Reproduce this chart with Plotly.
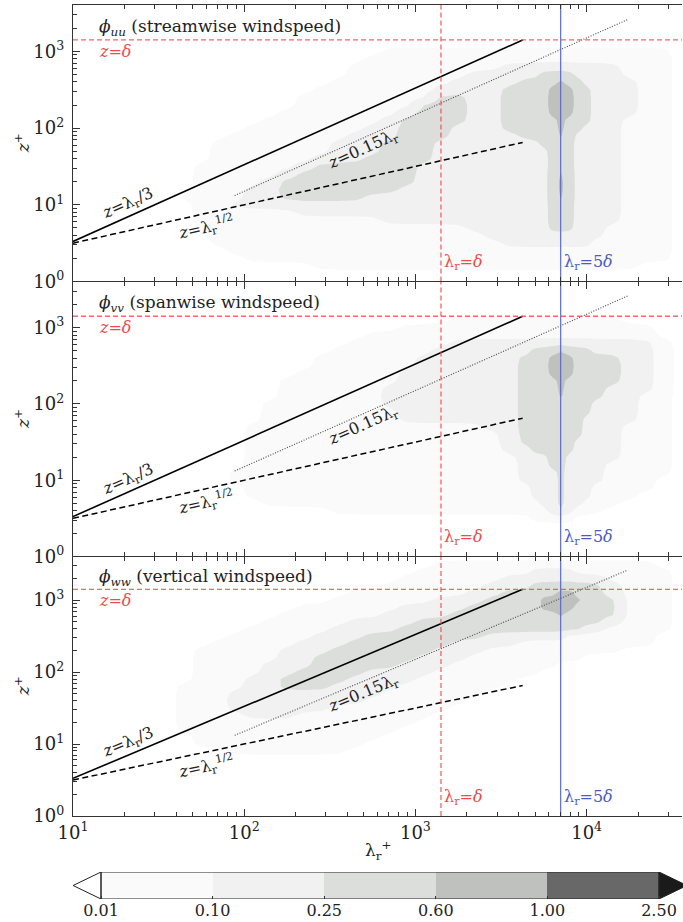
import math
import numpy as np
import plotly.graph_objects as go

# ---------------------------------------------------------------- data ----
DELTA_PLUS = 1410.0                     # boundary-layer height in wall units

LEVELS = [0.01, 0.10, 0.25, 0.60, 1.00, 2.50]
LEVEL_LABELS = ["0.01", "0.10", "0.25", "0.60", "1.00", "2.50"]
# colours of: below 0.01, 0.01-0.1, 0.1-0.25, 0.25-0.6, 0.6-1, 1-2.5, above 2.5
BAND_COLORS = ["#ffffff", "#fafafa", "#f1f1f1", "#dcdedc", "#bfc1bf", "#686868", "#1a1a1a"]
# representative premultiplied-spectrum value for each band code 0..5
CODE_PHI = [0.003, 0.032, 0.16, 0.39, 0.77, 1.6]

# grid columns: log10(lambda_r^+)
LOG_LAMBDA = [0.95, 1.05, 1.15, 1.25, 1.35, 1.45, 1.55, 1.65, 1.75, 1.85,
              1.95, 2.05, 2.15, 2.25, 2.35, 2.45, 2.55, 2.65, 2.75, 2.85,
              2.95, 3.05, 3.15, 3.25, 3.35, 3.45, 3.55, 3.65, 3.70, 3.75,
              3.80, 3.85, 3.90, 3.95, 4.00, 4.05, 4.15, 4.25, 4.35, 4.45,
              4.55, 4.65]
# grid rows: log10(z^+), listed top to bottom
LOG_Z = [3.7, 3.6, 3.5, 3.4, 3.3, 3.2, 3.1, 3.0, 2.9, 2.8, 2.7, 2.6, 2.5,
         2.4, 2.3, 2.2, 2.1, 2.0, 1.9, 1.8, 1.7, 1.6, 1.5, 1.4, 1.3, 1.2,
         1.1, 1.0, 0.9, 0.8, 0.7, 0.6, 0.5, 0.4, 0.3, 0.2, 0.1, 0.0]

# band code per grid cell, run-length coded as "code*count", rows top->bottom
PHI_UU = [
    "0*42", "0*42", "0*42", "0*42", "0*42", "0*42", "0*42",
    "0*19 1*21 0*2",
    "0*18 1*22 0*2",
    "0*17 1*9 2*11 1*3 0*2",
    "0*17 1*7 2*5 3*4 2*4 1*3 0*2",
    "0*16 1*7 2*4 3*4 4*1 3*2 2*4 1*2 0*2",
    "0*15 1*7 2*4 3*4 4*3 3*2 2*3 1*2 0*2",
    "0*14 1*8 3*2 2*2 3*4 4*3 3*2 2*3 1*2 0*2",
    "0*14 1*7 3*3 2*2 3*4 4*3 3*2 2*3 1*2 0*2",
    "0*13 1*7 2*1 3*3 2*2 3*4 4*3 3*2 2*3 1*2 0*2",
    "0*12 1*7 2*1 3*4 2*2 3*5 4*1 3*3 2*2 1*3 0*2",
    "0*11 1*7 2*2 3*3 2*3 3*5 4*1 3*2 2*3 1*3 0*2",
    "0*10 1*7 2*3 3*3 2*4 3*4 4*1 3*1 2*4 1*3 0*2",
    "0*9 1*7 2*3 3*3 2*7 3*4 2*4 1*3 0*2",
    "0*9 1*7 2*3 3*3 2*8 3*3 2*4 1*3 0*2",
    "0*9 1*6 2*3 3*4 2*8 3*3 2*4 1*3 0*2",
    "0*8 1*6 2*1 3*6 2*9 3*3 2*4 1*3 0*2",
    "0*8 1*5 2*1 3*7 2*9 3*1 4*1 3*1 2*4 1*3 0*2",
    "0*8 1*4 2*1 3*8 2*9 3*1 4*1 3*1 2*4 1*3 0*2",
    "0*8 1*3 2*2 3*7 2*10 3*1 4*1 3*1 2*4 1*3 0*2",
    "0*7 1*4 2*2 3*5 2*12 3*1 4*1 3*1 2*4 1*3 0*2",
    "0*8 1*2 2*20 3*3 2*4 1*3 0*2",
    "0*8 1*6 2*16 3*3 2*4 1*3 0*2",
    "0*8 1*11 2*11 3*3 2*4 1*3 0*2",
    "0*8 1*16 2*6 3*3 2*3 1*4 0*2",
    "0*9 1*16 2*11 1*4 0*2",
    "0*9 1*17 2*9 1*5 0*2",
    "0*10 1*30 0*2",
    "0*11 1*29 0*2",
    "0*15 1*23 0*4",
    "0*42", "0*42",
]

PHI_VV = [
    "0*42", "0*42", "0*42", "0*42", "0*42", "0*42",
    "0*23 1*14 0*5",
    "0*20 1*19 0*3",
    "0*18 1*21 0*3",
    "0*17 1*6 2*16 1*1 0*2",
    "0*16 1*6 2*6 3*3 4*1 3*3 2*4 1*1 0*2",
    "0*15 1*6 2*6 3*3 4*3 3*4 2*2 1*1 0*2",
    "0*15 1*6 2*6 3*3 4*3 3*4 2*2 1*1 0*2",
    "0*14 1*6 2*7 3*3 4*3 3*4 2*2 1*1 0*2",
    "0*13 1*7 2*7 3*4 4*1 3*5 2*2 1*1 0*2",
    "0*13 1*6 2*8 3*4 4*1 3*4 2*3 1*1 0*2",
    "0*13 1*6 2*8 3*4 4*1 3*4 2*2 1*2 0*2",
    "0*12 1*7 2*8 3*8 2*3 1*2 0*2",
    "0*12 1*8 2*7 3*8 2*3 1*2 0*2",
    "0*12 1*8 2*7 3*7 2*4 1*2 0*2",
    "0*11 1*14 2*2 3*7 2*3 1*3 0*2",
    "0*11 1*15 2*1 3*7 2*3 1*3 0*2",
    "0*11 1*15 2*1 3*6 2*4 1*3 0*2",
    "0*11 1*15 2*2 3*5 2*4 1*3 0*2",
    "0*11 1*16 2*3 3*2 2*5 1*3 0*2",
    "0*11 1*16 2*3 3*2 2*4 1*4 0*2",
    "0*10 1*17 2*4 3*1 2*4 1*4 0*2",
    "0*10 1*17 2*4 3*1 2*4 1*3 0*3",
    "0*11 1*17 2*3 3*1 2*3 1*4 0*3",
    "0*11 1*17 2*3 3*1 2*3 1*3 0*4",
    "0*12 1*17 2*2 3*1 2*2 1*3 0*5",
    "0*16 1*14 2*1 3*1 2*1 1*3 0*6",
    "0*28 1*5 0*9",
    "0*42", "0*42", "0*42", "0*42", "0*42",
]

PHI_WW = [
    "0*42", "0*42",
    "0*22 1*17 0*3",
    "0*21 1*7 2*5 1*7 0*2",
    "0*20 1*6 2*10 1*4 0*2",
    "0*19 1*6 2*3 3*8 2*1 1*3 0*2",
    "0*17 1*7 2*2 3*5 4*2 3*3 2*1 1*3 0*2",
    "0*16 1*6 2*3 3*4 4*5 3*3 1*3 0*2",
    "0*14 1*6 2*4 3*5 4*4 3*4 1*3 0*2",
    "0*13 1*6 2*4 3*8 4*1 3*5 1*3 0*2",
    "0*12 1*5 2*4 3*15 2*1 1*3 0*2",
    "0*11 1*5 2*4 3*14 2*2 1*4 0*2",
    "0*10 1*5 2*3 3*7 2*7 1*7 0*3",
    "0*9 1*5 2*3 3*6 2*4 1*12 0*3",
    "0*8 1*5 2*3 3*6 2*3 1*12 0*5",
    "0*8 1*5 2*2 3*6 2*3 1*10 0*8",
    "0*8 1*4 2*3 3*5 2*3 1*8 0*11",
    "0*8 1*4 2*2 3*4 2*4 1*7 0*13",
    "0*8 1*3 2*2 3*4 2*4 1*6 0*15",
    "0*7 1*4 2*2 3*3 2*4 1*6 0*16",
    "0*7 1*3 2*9 1*6 0*17",
    "0*7 1*3 2*8 1*6 0*18",
    "0*7 1*3 2*6 1*7 0*19",
    "0*7 1*4 2*3 1*8 0*20",
    "0*7 1*14 0*21",
    "0*7 1*13 0*22",
    "0*8 1*11 0*23",
    "0*8 1*10 0*24",
    "0*10 1*7 0*25",
    "0*42", "0*42", "0*42", "0*42", "0*42", "0*42", "0*42", "0*42", "0*42",
]

PANEL_FIELDS = [PHI_UU, PHI_VV, PHI_WW]
PANEL_TITLES = ["<i>ϕ</i><sub><i>uu</i></sub> (streamwise windspeed)",
                "<i>ϕ</i><sub><i>vv</i></sub> (spanwise windspeed)",
                "<i>ϕ</i><sub><i>ww</i></sub> (vertical windspeed)"]

# reference scalings
LINE_LAMBDA = [10.0, 3 * DELTA_PLUS]      # extent of z = lambda/3 and z = lambda^1/2
DOTTED_LAMBDA = [88.0, 17400.0]           # extent of z = 0.15 lambda
LABEL_LAMBDA = {"third": 21.0, "sqrt": 60.0, "p15": 497.0}

X_TICKS = [10, 100, 1000, 10000]
X_TICK_TEXT = ["10<sup>1</sup>", "10<sup>2</sup>", "10<sup>3</sup>", "10<sup>4</sup>"]
Y_TICKS = [1, 10, 100, 1000]
Y_TICK_TEXT = ["10<sup>0</sup>", "10<sup>1</sup>", "10<sup>2</sup>", "10<sup>3</sup>"]

# ------------------------------------------------------------- styling ----
FIG_W, FIG_H = 683, 922
FONT = "DejaVu Serif"
INK = "#222222"
AXIS_INK = "#333333"
RED_LINE = "rgba(240, 75, 75, 0.85)"
RED_TEXT = "#ee4a4a"
BLUE_LINE = "rgba(85, 105, 200, 0.9)"
BLUE_TEXT = "#4a5cbf"

X_LOG_RANGE = [1.0, 4.557]
Y_LOG_RANGE = [0.0, 3.605]
PLOT_LEFT_PX, PLOT_RIGHT_PX = 73, 682
PANEL_PX = [(5, 281.5), (281.5, 556.5), (556.5, 816)]
CBAR_LEFT_PX, CBAR_RECT_LEFT_PX, CBAR_RECT_RIGHT_PX = 72, 101, 659
CBAR_TOP_PX, CBAR_BOTTOM_PX = 872, 899
EXTEND_FRAC = 0.05


def fx(px):
    return px / FIG_W


def fy(py):
    return 1 - py / FIG_H


def decode(rows):
    grid = []
    n = len(LOG_LAMBDA)
    for row in rows:
        cells = []
        for tok in row.split():
            code, count = tok.split("*")
            cells.extend([int(code)] * int(count))
        cells = (cells + [0] * n)[:n]
        grid.append(cells)
    return np.array(grid[::-1])          # bottom -> top


EDGES = [LEVELS[0] / 10] + LEVELS + [LEVELS[-1] * 2.5]


def to_level_index(phi):
    return np.interp(np.log10(phi), np.log10(EDGES), np.arange(len(EDGES)))


def blur(a, axis, sigma=0.6, r=2):
    offs = np.arange(-r, r + 1)
    w = np.exp(-0.5 * (offs / sigma) ** 2)
    w /= w.sum()
    pad = [(0, 0), (0, 0)]
    pad[axis] = (r, r)
    ap = np.pad(a, pad, mode="edge")
    out = np.zeros_like(a, dtype=float)
    for o, wt in zip(offs, w):
        sl = [slice(None), slice(None)]
        sl[axis] = slice(r + o, r + o + a.shape[axis])
        out += wt * ap[tuple(sl)]
    return out


def refine(field, factor=4):
    """Soften the cell steps and resample the grid finer (bilinear)."""
    f = blur(blur(field, 0), 1)
    ny, nx = f.shape
    xi = np.linspace(0, nx - 1, factor * (nx - 1) + 1)
    yi = np.linspace(0, ny - 1, factor * (ny - 1) + 1)
    tmp = np.array([np.interp(xi, np.arange(nx), row) for row in f])
    up = np.array([np.interp(yi, np.arange(ny), col) for col in tmp.T]).T
    lx = np.interp(xi, np.arange(nx), LOG_LAMBDA)
    ly = np.interp(yi, np.arange(ny), LOG_Z[::-1])
    return 10 ** lx, 10 ** ly, up


n_bands = len(BAND_COLORS)
colorscale = [[k / (n_bands - 1), c] for k, c in enumerate(BAND_COLORS)]

fig = go.Figure()
annotations = []
layout_axes = {}

x_px_per_dec = (PLOT_RIGHT_PX - PLOT_LEFT_PX) / (X_LOG_RANGE[1] - X_LOG_RANGE[0])

for i, rows in enumerate(PANEL_FIELDS):
    sfx = "" if i == 0 else str(i + 1)
    xr, yr = "x" + sfx, "y" + sfx
    top, bot = PANEL_PX[i]
    phi = np.array(CODE_PHI)[decode(rows)]
    gx, gy, gz = refine(to_level_index(phi))
    fig.add_trace(go.Contour(
        x=gx, y=gy, z=gz, xaxis=xr, yaxis=yr,
        contours=dict(start=1, end=6, size=1, coloring="fill", showlines=False),
        colorscale=colorscale, showscale=False,
        line=dict(width=0, smoothing=1.0), hoverinfo="skip"))

    lx = np.array(LINE_LAMBDA)
    fig.add_trace(go.Scatter(x=lx, y=lx / 3, mode="lines", xaxis=xr, yaxis=yr,
                             line=dict(color="#000000", width=1.6), hoverinfo="skip"))
    fig.add_trace(go.Scatter(x=lx, y=np.sqrt(lx), mode="lines", xaxis=xr, yaxis=yr,
                             line=dict(color="#000000", width=1.5, dash="6px,3.5px"),
                             hoverinfo="skip"))
    dx = np.array(DOTTED_LAMBDA)
    fig.add_trace(go.Scatter(x=dx, y=0.15 * dx, mode="lines", xaxis=xr, yaxis=yr,
                             line=dict(color="#444444", width=1.1, dash="1px,1.6px"),
                             hoverinfo="skip"))
    xfull = [10 ** X_LOG_RANGE[0], 10 ** X_LOG_RANGE[1]]
    yfull = [10 ** Y_LOG_RANGE[0], 10 ** Y_LOG_RANGE[1]]
    fig.add_trace(go.Scatter(x=xfull, y=[DELTA_PLUS] * 2, mode="lines", xaxis=xr, yaxis=yr,
                             line=dict(color=RED_LINE, width=1.3, dash="5px,3px"),
                             hoverinfo="skip"))
    fig.add_trace(go.Scatter(x=[DELTA_PLUS] * 2, y=yfull, mode="lines", xaxis=xr, yaxis=yr,
                             line=dict(color=RED_LINE, width=1.3, dash="5px,3px"),
                             hoverinfo="skip"))
    fig.add_trace(go.Scatter(x=[5 * DELTA_PLUS] * 2, y=yfull, mode="lines", xaxis=xr, yaxis=yr,
                             line=dict(color=BLUE_LINE, width=1.3), hoverinfo="skip"))

    # axes
    common = dict(type="log", showgrid=False, zeroline=False, showline=True,
                  automargin=False,
                  linecolor=AXIS_INK, linewidth=1.3,
                  ticks="inside", ticklen=7, tickwidth=1.2, tickcolor=AXIS_INK,
                  tickfont=dict(family=FONT, size=18, color=INK),
                  minor=dict(ticks="inside", ticklen=4, tickwidth=1, tickcolor=AXIS_INK,
                             dtick="D1", showgrid=False))
    layout_axes["xaxis" + sfx] = dict(
        common, range=X_LOG_RANGE, domain=[fx(PLOT_LEFT_PX), fx(PLOT_RIGHT_PX)],
        anchor=yr, tickmode="array", tickvals=X_TICKS, ticktext=X_TICK_TEXT,
        showticklabels=(i == 2), mirror="allticks")
    layout_axes["yaxis" + sfx] = dict(
        common, range=Y_LOG_RANGE, domain=[fy(bot), fy(top)], anchor=xr,
        tickmode="array", tickvals=Y_TICKS, ticktext=Y_TICK_TEXT, ticklabelstandoff=4,
        mirror=False)
    # right-hand spine with major ticks only
    layout_axes["yaxis" + str(i + 5)] = dict(
        type="log", range=Y_LOG_RANGE, overlaying=yr, side="right", anchor=xr,
        showgrid=False, zeroline=False, showline=True, linecolor=AXIS_INK, linewidth=1.3,
        ticks="inside", ticklen=7, tickwidth=1.2, tickcolor=AXIS_INK,
        tickmode="array", tickvals=Y_TICKS, showticklabels=False, automargin=False)

    # text
    y_px_per_dec = (bot - top) / (Y_LOG_RANGE[1] - Y_LOG_RANGE[0])
    ang1 = math.degrees(math.atan(y_px_per_dec / x_px_per_dec))
    ang_half = math.degrees(math.atan(0.5 * y_px_per_dec / x_px_per_dec))
    base = dict(showarrow=False, font=dict(family=FONT, size=16, color=INK))
    annotations.append(dict(base, text=PANEL_TITLES[i], xref=xr + " domain", yref=yr + " domain",
                            x=0.04, y=0.92, xanchor="left", yanchor="middle",
                            font=dict(family=FONT, size=17, color=INK)))
    annotations.append(dict(base, text="<i>z</i>=<i>δ</i>", xref=xr + " domain", yref=yr,
                            x=0.04, y=math.log10(DELTA_PLUS), xanchor="left", yanchor="top",
                            font=dict(family=FONT, size=16, color=RED_TEXT)))
    annotations.append(dict(base, text="λ<sub>r</sub>=<i>δ</i>", xref=xr, yref=yr + " domain",
                            x=math.log10(DELTA_PLUS), y=0.07, xanchor="left", yanchor="middle",
                            xshift=1, font=dict(family=FONT, size=16, color=RED_TEXT)))
    annotations.append(dict(base, text="λ<sub>r</sub>=5<i>δ</i>", xref=xr, yref=yr + " domain",
                            x=math.log10(5 * DELTA_PLUS), y=0.07, xanchor="left",
                            yanchor="middle", xshift=1,
                            font=dict(family=FONT, size=16, color=BLUE_TEXT)))
    l3 = LABEL_LAMBDA["third"]
    annotations.append(dict(base, text="<i>z</i>=λ<sub>r</sub>/3", xref=xr, yref=yr,
                            x=math.log10(l3), y=math.log10(l3 / 3), yshift=13,
                            textangle=-ang1))
    ls = LABEL_LAMBDA["sqrt"]
    annotations.append(dict(base, text="<i>z</i>=λ<sub>r</sub><sup>1/2</sup>", xref=xr, yref=yr,
                            x=math.log10(ls), y=math.log10(math.sqrt(ls)), yshift=-14,
                            textangle=-ang_half))
    lp = LABEL_LAMBDA["p15"]
    annotations.append(dict(base, text="<i>z</i>=0.15λ<sub>r</sub>", xref=xr, yref=yr,
                            x=math.log10(lp), y=math.log10(0.15 * lp), yshift=-12,
                            textangle=-ang1))
    annotations.append(dict(base, text="<i>z</i><sup>+</sup>", xref="paper", yref="paper",
                            x=fx(22), y=fy((top + bot) / 2), textangle=-90,
                            xanchor="center", yanchor="middle",
                            font=dict(family=FONT, size=17, color=INK)))

annotations.append(dict(showarrow=False, text="λ<sub>r</sub><sup>+</sup>", xref="paper",
                        yref="paper", x=fx((PLOT_LEFT_PX + PLOT_RIGHT_PX) / 2), y=fy(850),
                        xanchor="center", yanchor="middle",
                        font=dict(family=FONT, size=17, color=INK)))

# ------------------------------------------------------------ colourbar ----
n_inner = len(LEVELS) - 1
unit_px = (CBAR_RECT_RIGHT_PX - CBAR_RECT_LEFT_PX) / n_inner
ext = EXTEND_FRAC * n_inner
cb_range = [(CBAR_LEFT_PX - CBAR_RECT_LEFT_PX) / unit_px,
            (FIG_W - CBAR_RECT_LEFT_PX) / unit_px]
fig.add_trace(go.Heatmap(
    x=list(range(n_inner + 1)), y=[0, 1],
    z=[[k + 1.5 for k in range(n_inner)]], zmin=0.5, zmax=n_bands - 0.5,
    colorscale=colorscale, showscale=False, xaxis="x4", yaxis="y4", hoverinfo="skip"))
fig.add_trace(go.Scatter(x=[0, -ext, 0, 0], y=[0, 0.5, 1, 0], mode="lines", fill="toself",
                         fillcolor=BAND_COLORS[0], line=dict(color=INK, width=1),
                         xaxis="x4", yaxis="y4", hoverinfo="skip"))
fig.add_trace(go.Scatter(x=[n_inner, n_inner + ext, n_inner, n_inner], y=[0, 0.5, 1, 0],
                         mode="lines", fill="toself", fillcolor=BAND_COLORS[-1],
                         line=dict(color=INK, width=1), xaxis="x4", yaxis="y4",
                         hoverinfo="skip"))
fig.add_trace(go.Scatter(x=[0, n_inner, n_inner, 0, 0], y=[0, 0, 1, 1, 0], mode="lines",
                         line=dict(color=INK, width=1), xaxis="x4", yaxis="y4",
                         hoverinfo="skip"))
layout_axes["xaxis4"] = dict(range=cb_range, domain=[fx(CBAR_LEFT_PX), 1.0], anchor="y4",
                             automargin=False,
                             showgrid=False, zeroline=False, showline=False,
                             tickmode="array", tickvals=list(range(n_inner + 1)),
                             ticktext=LEVEL_LABELS, ticks="inside", ticklen=3,
                             tickcolor=AXIS_INK, tickfont=dict(family=FONT, size=16, color=INK))
layout_axes["yaxis4"] = dict(range=[0, 1], domain=[fy(CBAR_BOTTOM_PX), fy(CBAR_TOP_PX)],
                             anchor="x4", visible=False, automargin=False)

fig.update_layout(
    width=FIG_W, height=FIG_H, margin=dict(l=0, r=0, t=0, b=0, autoexpand=False),
    paper_bgcolor="white", plot_bgcolor="white", showlegend=False,
    annotations=annotations, **layout_axes)

fig.write_html("out.html", config={"displayModeBar": False},
               post_script="document.body.style.margin='0px';"
                           "document.body.style.overflow='hidden';")
